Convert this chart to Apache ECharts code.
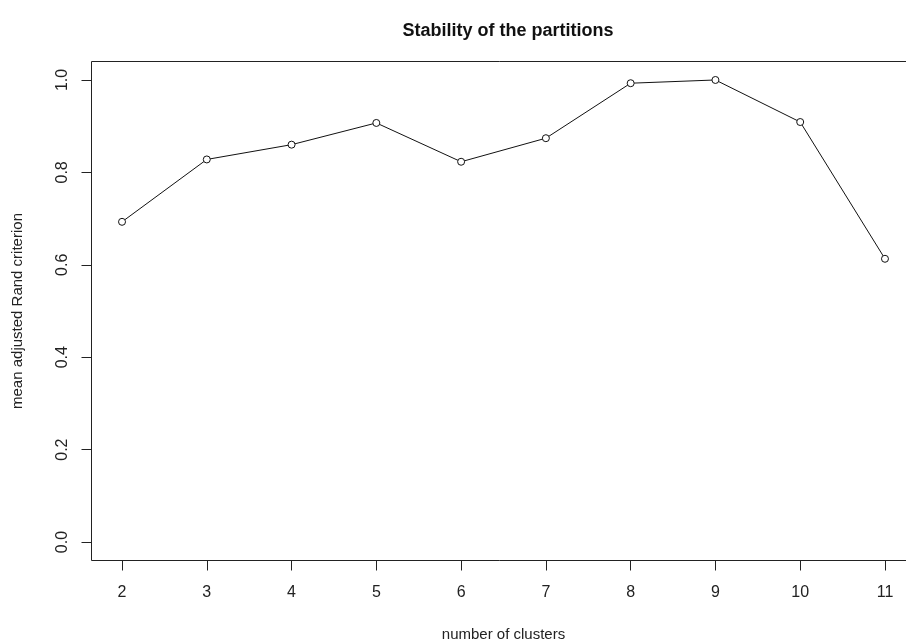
<!DOCTYPE html>
<html>
<head>
<meta charset="utf-8">
<script src="https://cdn.jsdelivr.net/npm/echarts@6/dist/echarts.min.js"></script>
<style>
html,body{margin:0;padding:0;background:#fff;}
#chart{width:906px;height:644px;}
</style>
</head>
<body>
<div id="chart"></div>
<script>
var clusters = [2, 3, 4, 5, 6, 7, 8, 9, 10, 11];
var randValues = [0.693, 0.828, 0.860, 0.907, 0.823, 0.874, 0.993, 1.0, 0.909, 0.613];
var xTicks = [2, 3, 4, 5, 6, 7, 8, 9, 10, 11];
var yTicks = [0, 0.2, 0.4, 0.6, 0.8, 1.0];

var font = "'Liberation Sans', Arial, sans-serif";
var chart = echarts.init(document.getElementById('chart'), null, {renderer: 'canvas'});
var data = clusters.map(function (c, i) { return [c, randValues[i]]; });

chart.setOption({
  animation: false,
  backgroundColor: '#fff',
  title: {
    text: 'Stability of the partitions',
    left: 503, top: 17, textAlign: 'center',
    textStyle: {fontFamily: font, fontSize: 18, fontWeight: 'bold', color: '#111'}
  },
  grid: {
    left: 91.5, top: 61.5, right: -9.5, bottom: 83.5,
    show: true, borderColor: '#222', borderWidth: 1, backgroundColor: 'transparent',
    containLabel: false, outerBoundsMode: 'none'
  },
  xAxis: {
    type: 'value', min: 1.64, max: 11.36,
    name: 'number of clusters', nameLocation: 'middle', nameGap: 67,
    nameTextStyle: {fontFamily: font, fontSize: 15, color: '#222'},
    axisLine: {show: false, onZero: false},
    splitLine: {show: false},
    axisTick: {show: true, inside: false, length: 10, lineStyle: {color: '#222'}, customValues: xTicks},
    axisLabel: {customValues: xTicks, fontFamily: font, fontSize: 16, color: '#222', margin: 24,
      formatter: function (v) { return String(v); }}
  },
  yAxis: {
    type: 'value', min: -0.04, max: 1.04,
    name: 'mean adjusted Rand criterion', nameLocation: 'middle', nameGap: 66, nameRotate: 90,
    nameTextStyle: {fontFamily: font, fontSize: 15, color: '#222'},
    axisLine: {show: false, onZero: false},
    splitLine: {show: false},
    axisTick: {show: true, inside: false, length: 10, lineStyle: {color: '#222'}, customValues: yTicks},
    axisLabel: {customValues: yTicks, fontFamily: font, fontSize: 16, color: '#222', margin: 21, rotate: 90,
      formatter: function (v) { return v.toFixed(1); }}
  },
  series: [{
    type: 'line',
    data: data,
    symbol: 'circle', symbolSize: 7,
    itemStyle: {color: '#fff', borderColor: '#111', borderWidth: 1},
    lineStyle: {color: '#111', width: 1},
    emphasis: {disabled: true}
  }]
});
</script>
</body>
</html>
